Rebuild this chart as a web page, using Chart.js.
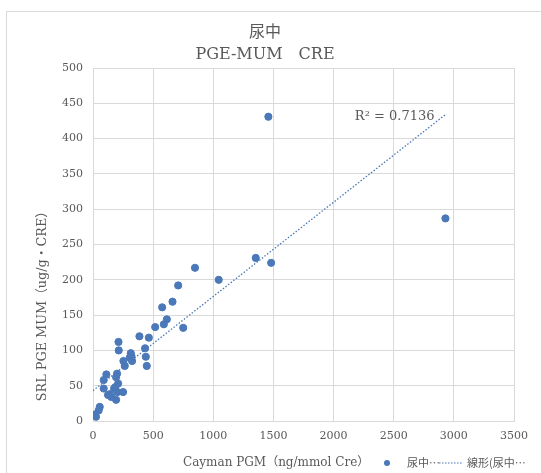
<!DOCTYPE html>
<html>
<head>
<meta charset="utf-8">
<script src="https://cdn.jsdelivr.net/npm/chart.js@4.4.1/dist/chart.umd.min.js"></script>
<style>
    html, body { margin: 0; padding: 0; background: #fff; }
    #wrap { position: relative; width: 541px; height: 473px; }
</style>
</head>
<body>
<div id="wrap"><canvas id="scatterChart" width="541" height="473"></canvas></div>
<script>
// Data
const xValues = [1458, 2930, 1353, 1481, 848, 1045, 708, 661, 575, 614, 589, 517, 750, 386, 464,
    212, 433, 214, 314, 306, 439, 253, 325, 264, 447, 111, 200, 89, 192, 209,
    89, 175, 203, 125, 250, 192, 153, 56, 47, 14, 25, 185, 320, 140];
const yValues = [431, 287, 231, 224, 217, 200, 192, 169, 161, 144, 137, 133, 132, 120, 118,
    112, 103, 100, 96, 90, 91, 85, 85, 78, 78, 66, 67, 58, 62, 53,
    46, 46, 41, 37, 41, 30, 34, 20, 15, 9, 6, 48, 92, 38];
const trendX = [0, 2930];
const trendY = [43, 434];

const titleLines = ['尿中', 'PGE-MUM　CRE'];
const xTitle = 'Cayman PGM（ng/mmol Cre）';
const yTitle = 'SRL PGE MUM（ug/g・CRE）';
const seriesName = '尿中…';
const trendName = '線形(尿中…';
const r2Label = 'R² = 0.7136';

const blue = '#4a78b8';
const gray = '#595959';
const serif = '"DejaVu Serif", "Noto Sans CJK JP", serif';

const points = xValues.map((x, i) => ({ x: x, y: yValues[i] }));
const trend = trendX.map((x, i) => ({ x: x, y: trendY[i] }));

// Titles, axis titles, legend row, R² label
const decorPlugin = {
    id: 'decor',
    beforeDraw(chart) {
        const ctx = chart.ctx;
        ctx.save();
        ctx.strokeStyle = '#d9d9d9';
        ctx.lineWidth = 1;
        ctx.strokeRect(6.5, 11.5, 600, 600);
        ctx.restore();
    },
    afterDraw(chart) {
        const ctx = chart.ctx;
        const xs = chart.scales.x, ys = chart.scales.y;
        ctx.save();
        ctx.fillStyle = gray;
        ctx.textBaseline = 'middle';

        ctx.textAlign = 'center';
        ctx.font = '16px ' + serif;
        ctx.fillText(titleLines[0], 265, 33);
        ctx.fillText(titleLines[1], 265, 55);

        ctx.font = '13px ' + serif;
        ctx.fillText(r2Label, xs.getPixelForValue(2508), ys.getPixelForValue(431));

        ctx.font = '12.8px ' + serif;
        ctx.save();
        ctx.translate(43, 303);
        ctx.rotate(-Math.PI / 2);
        ctx.fillText(yTitle, 0, 0);
        ctx.restore();

        ctx.font = '12px ' + serif;
        ctx.textAlign = 'left';
        ctx.fillText(xTitle, 183, 463);

        // legend
        ctx.fillStyle = blue;
        ctx.beginPath();
        ctx.arc(387, 463, 3, 0, Math.PI * 2);
        ctx.fill();
        ctx.fillStyle = gray;
        ctx.font = '11px "Noto Sans CJK JP", sans-serif';
        ctx.fillText(seriesName, 407, 463);
        ctx.strokeStyle = blue;
        ctx.lineWidth = 1.2;
        ctx.setLineDash([1.5, 1.5]);
        ctx.beginPath();
        ctx.moveTo(439, 463);
        ctx.lineTo(463, 463);
        ctx.stroke();
        ctx.setLineDash([]);
        ctx.fillText(trendName, 467, 463);
        ctx.restore();
    }
};

new Chart(document.getElementById('scatterChart'), {
    type: 'scatter',
    data: {
        datasets: [{
            label: seriesName,
            data: points,
            backgroundColor: blue,
            borderColor: blue,
            pointRadius: 3.6,
            pointHoverRadius: 3.6
        }, {
            label: trendName,
            type: 'line',
            data: trend,
            borderColor: blue,
            borderWidth: 1.3,
            borderDash: [1.5, 1.8],
            pointRadius: 0,
            fill: false
        }]
    },
    options: {
        responsive: false,
        animation: false,
        layout: {
            padding: { top: 68, right: 27, left: 0, bottom: 0 }
        },
        plugins: {
            legend: { display: false },
            title: { display: false },
            tooltip: { enabled: false }
        },
        scales: {
            x: {
                type: 'linear',
                min: 0,
                max: 3500,
                ticks: {
                    stepSize: 500,
                    color: gray,
                    font: { family: serif, size: 11 },
                    maxRotation: 0,
                    padding: 9,
                    callback: v => String(v)
                },
                grid: { color: '#d9d9d9', drawTicks: false },
                border: { color: '#d9d9d9' },
                afterFit: s => { s.height = 52; }
            },
            y: {
                min: 0,
                max: 500,
                ticks: {
                    stepSize: 50,
                    color: gray,
                    font: { family: serif, size: 11 },
                    padding: 10,
                    callback: v => String(v)
                },
                grid: { color: '#d9d9d9', drawTicks: false },
                border: { color: '#d9d9d9' },
                afterFit: s => { s.width = 93; }
            }
        }
    },
    plugins: [decorPlugin]
});
</script>
</body>
</html>
